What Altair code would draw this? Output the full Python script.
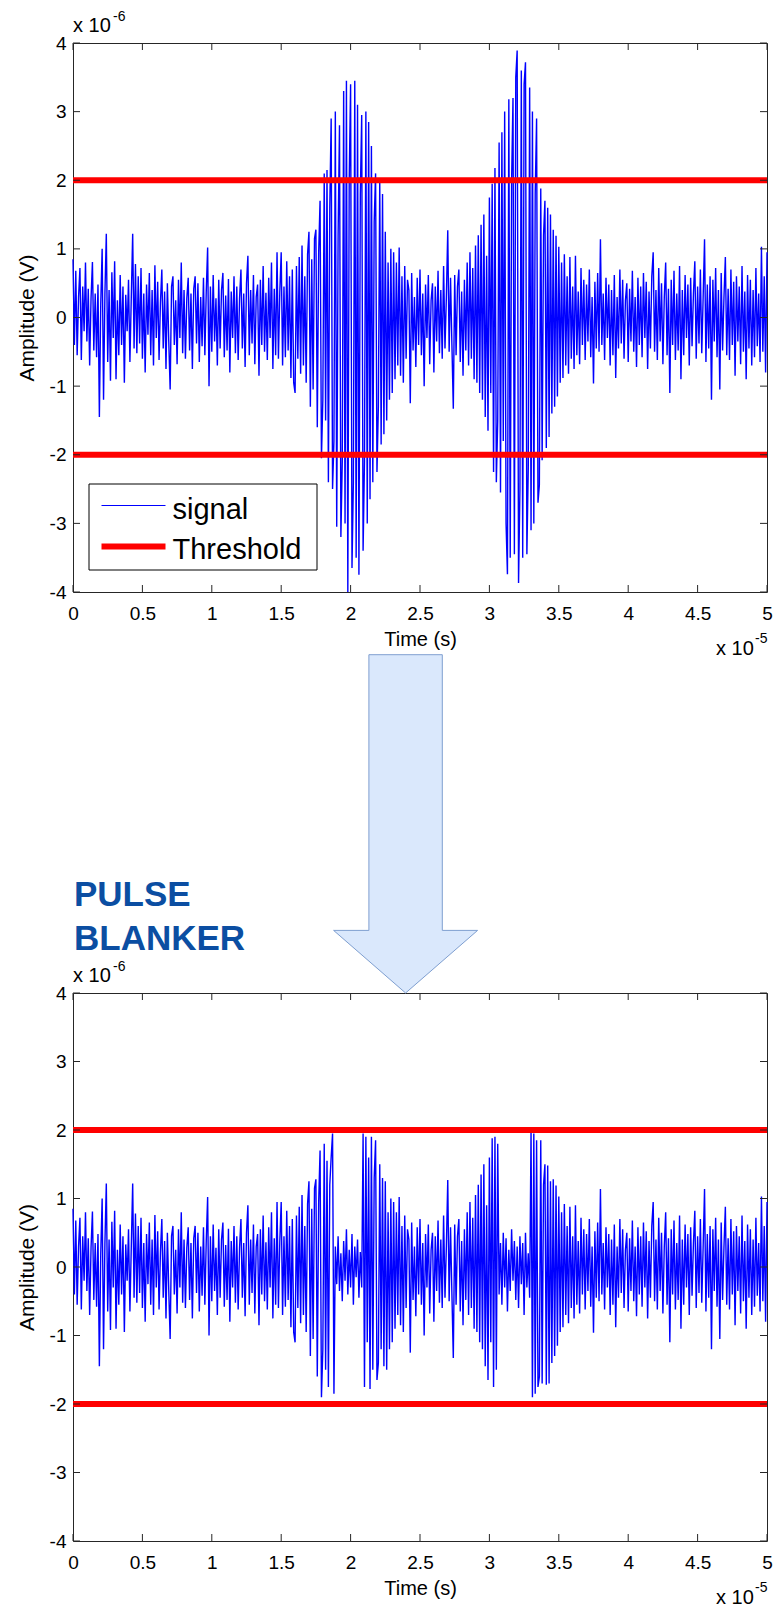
import altair as alt
import pandas as pd

# Amplitudes are in hundredths of a microvolt (1e-8 V).
# Time axis is in units of 1e-5 s, sampled 100 times per unit (0 .. 5).
noise_a = [
    85, -40, 68, -55, 30, 72, -62, 45, -20, 80,
    -35, 42, -70, 28, 81, -48, 35, -58, 48, -145,
    20, 100, -120, 35, 122, -65, 40, -92, 66, -30,
    82, -90, 25, -55, 62, -40, 45, -95, 33, -20,
    55, -65, 30, 122, -45, 78, -52, 60, -38, 72,
    -60, 35, -80, 48, -25, 65, -55, 40, -70, 76,
    -30, 52, -62, 22, 70, -45, 38, -75, 50, -35,
    -105, 45, 60, -40, 25, -68, 55, -30, 80, -52,
    40, -60, 28, 58, -48, 35, -75, 42, 60, -38,
    50, -65, 30, -42, 58, -55, 38, 102, -100, 45,
    -50, 62, -35, 28, -70, 55, -45, 40, 65, -58,
    32, -48, 56, -80, 38, -30, 60, -52, 45, -62,
    28, 70, -45, 35, -72, 50, 90, -55, 40, -38,
    62, -68, 30, 48, -85, 55, -40, 75, -50, 36,
    -62, 58, -30, 80, -75, 42, -55, 95, -60, 38,
    95, -70, 45, -58, 82, -48, 60, -88, 70, -95,
    -110, 75, -60, 88, -82, 105, -70, 60, -95, 92,
    125, -130, 85, -105, 115,
]
burst1 = [
    128, -160, 95, 170, -205, -120, 210, -150, 215, -240,
    160, 290, -250, -180, 300, -305, 120, 280, -320, -210,
    330, -300, 345, -400, 200, 340, -365, -240, 345, -350,
    310, -375, 180, 295, -340, -210, 300, -300, 285, -265,
    250, -240, 140, 210, -225, -130, 200, -185, 180, -170,
    125, -150, 80, -120, 100,
]
noise_b = [
    -110, 95, -90, 80, -70, 102, -85, 60, -95, 75,
    -60, 55, 40, -125, 65, -48, 30, -72, 58, -40,
    70, -55, 35, -100, 48, -30, 62, -68, 25, 50,
    -80, 45, -35, 68, -52, 40, -60, 75, -45, 30,
    127, -50, 58, -40, -133, 62, -55, 45, 70, -65,
    38, -85, 55, -48, 80, -70, 95, -60, 72, -90,
    105, -95, 120, -110, 135,
]
burst2 = [
    -120, 150, -145, 90, -165, 175, -110, 195, -225, 218,
    -240, -150, 255, -255, 270, -180, 300, -300, -374, 318,
    -350, 200, 320, -345, 350, 389, -387, -250, 360, -350,
    340, 372, -345, -220, 335, -310, 300, -300, 180, 290,
    -270, -244, 188, -208, 120, 170, -190, 160, -174, 150,
    -140, 128, -130, 119, -115,
]
noise_c = [
    103, -95, 80, -88, 92, -70, 60, -82, 88, -60,
    45, -75, 90, -55, 38, -68, 72, -40, 55, -62,
    48, -35, 70, -58, 30, -96, 52, -45, 65, -50,
    114, -40, 35, -62, 58, -30, 48, -70, 40, -55,
    62, -88, 30, -45, 70, -38, 55, -60, 25, 50,
    -65, 42, -35, 68, -50, 30, -72, 58, -40, 45,
    -58, 65, -30, 52, -75, 38, -45, 60, 95, -50,
    40, -62, 72, -35, 50, -68, 30, 80, -55, 42,
    -110, 55, -40, 68, -62, 35, -48, 75, -90, 40,
    -55, 62, -30, 48, -70, 58, -42, 35, 82, -60,
    45, -38, 70, -52, 30, 114, -65, 48, -45, 60,
    -120, 55, -35, 72, -58, 40, -105, 65, -48, 30,
    88, -55, 42, -62, 70, -40, 52, -85, 60, -35,
    45, -68, 75, -50, 38, -90, 62, -45, 55, -70,
    40, -58, 72, -42, 35, -65, 103, -50, 60, -80,
    95,
]
# pulse-blanker output over the two burst windows
blanked1 = [
    128, -160, 95, 170, -190, -120, 180, -150, 155, -175,
    120, 160, 195, -185, 30, -25, 45, -35, 20, -50,
    38, -20, 55, -40, 25, -30, 48, -55, 30, -15,
    40, -45, 22, -30, 195, -175, 190, -110, 160, -178,
    190, -150, 130, 185, -165, -140, 150, -120, 130, -145,
    125, -150, 80, -120, 100,
]
blanked2 = [
    -120, 150, -145, 90, -165, 160, -110, 188, -175, 190,
    -150, 180, -40, 35, -55, 50, -30, 42, -65, 25,
    -35, 55, -20, 38, -48, 30, -60, 45, -25, 35,
    -70, 50, -30, 20, -45, 198, -190, 195, -185, 185,
    -175, -160, 185, -170, 120, 150, -172, 148, -170, 125,
    -140, 128, -130, 119, -115,
]

SAMPLES_PER_UNIT = 100
x_ticks = [0, 0.5, 1, 1.5, 2, 2.5, 3, 3.5, 4, 4.5, 5]
y_ticks = [-4, -3, -2, -1, 0, 1, 2, 3, 4]
thresholds = [2, -2]
legend_labels = ["signal", "Threshold"]
banner_lines = ["PULSE", "BLANKER"]

raw_signal = noise_a + burst1 + noise_b + burst2 + noise_c
blanked_signal = noise_a + blanked1 + noise_b + blanked2 + noise_c


def to_frame(vals):
    return pd.DataFrame({
        "t": [i / SAMPLES_PER_UNIT for i in range(len(vals))],
        "v": [v / 100 for v in vals],
    })


W = 694
FONT = "Liberation Sans"
BLUE = "#0000FF"
RED = "#FF0000"
FRAME = "#262626"
xs = alt.Scale(domain=[0, 5], nice=False, zero=False)
ys = alt.Scale(domain=[-4, 4], nice=False, zero=False)
one = pd.DataFrame({"k": [0]})


def text(s, x, y, size, color="black", weight="normal"):
    return alt.Chart(pd.DataFrame({"s": [s]})).mark_text(
        align="left", baseline="alphabetic", font=FONT, fontSize=size,
        color=color, fontWeight=weight,
    ).encode(x=alt.value(x), y=alt.value(y), text="s:N")


def panel(vals, H):
    x_enc = alt.X("t:Q", scale=xs, title="Time (s)", axis=alt.Axis(
        values=x_ticks, labelExpr="'' + datum.value",
        labelPadding=12, labelFlush=False, titleY=53, titleBaseline="alphabetic"))
    y_enc = alt.Y("v:Q", scale=ys, title="Amplitude (V)", axis=alt.Axis(
        values=y_ticks, labelExpr="'' + datum.value",
        labelPadding=7, labelFlush=False, titleX=-40, titleY=H / 2,
        titleFontSize=21, titleAngle=270, titleAlign="center", titleBaseline="alphabetic"))
    tx = alt.X("t:Q", scale=xs, title="Time (s)")
    ty = alt.Y("v:Q", scale=ys, title="Amplitude (V)")
    line = alt.Chart(to_frame(vals)).mark_line(color=BLUE, strokeWidth=1.4).encode(x=x_enc, y=y_enc)
    thr = alt.Chart(pd.DataFrame({"v": thresholds})).mark_rule(
        color=RED, strokeWidth=6).encode(y=ty)
    xt = pd.DataFrame({"t": x_ticks})
    yt = pd.DataFrame({"v": y_ticks})
    tick_b = alt.Chart(xt).mark_rule(color=FRAME, strokeWidth=1).encode(
        x=tx, y=alt.value(H), y2=alt.value(H - 7))
    tick_t = alt.Chart(xt).mark_rule(color=FRAME, strokeWidth=1).encode(
        x=tx, y=alt.value(0), y2=alt.value(7))
    tick_l = alt.Chart(yt).mark_rule(color=FRAME, strokeWidth=1).encode(
        y=ty, x=alt.value(0), x2=alt.value(7))
    tick_r = alt.Chart(yt).mark_rule(color=FRAME, strokeWidth=1).encode(
        y=ty, x=alt.value(W - 7), x2=alt.value(W))
    exp_y = [text("x 10", 0, -11, 20), text("-6", 40, -22, 14)]
    exp_x = [text("x 10", 643, H + 63, 20), text("-5", 682, H + 51, 14)]
    return [line, thr, tick_b, tick_t, tick_l, tick_r] + exp_y + exp_x


# top panel with legend
H1 = 549
legend = [
    alt.Chart(one).mark_rect(fill="white", stroke="black", strokeWidth=1).encode(
        x=alt.value(16), x2=alt.value(244), y=alt.value(441), y2=alt.value(527)),
    alt.Chart(one).mark_rule(color=BLUE, strokeWidth=1).encode(
        x=alt.value(28.5), x2=alt.value(92.5), y=alt.value(462.5)),
    alt.Chart(one).mark_rule(color=RED, strokeWidth=6).encode(
        x=alt.value(28.5), x2=alt.value(92.5), y=alt.value(503.5)),
    text(legend_labels[0], 99.5, 475.5, 29),
    text(legend_labels[1], 99.5, 515.5, 29),
]
top = alt.layer(*(panel(raw_signal, H1) + legend)).properties(width=W, height=H1)

# bottom panel with arrow and banner
H2 = 548
ARROW = "M-36.7,-338.3L36.7,-338.3L36.7,-62.6L72,-62.6L0,0L-72,-62.6L-36.7,-62.6Z"
arrow = alt.Chart(one).mark_point(
    shape=ARROW, size=4, filled=True, fill="#DAE8FC", stroke="#7F9FD0",
    strokeWidth=1, opacity=1, fillOpacity=1,
).encode(x=alt.value(332.6), y=alt.value(0))
banner = [
    text(banner_lines[0], 1, -86.6, 35, color="#0B4EA2", weight="bold"),
    text(banner_lines[1], 1, -43.3, 35, color="#0B4EA2", weight="bold"),
]
bottom = alt.layer(*(panel(blanked_signal, H2) + [arrow] + banner)).properties(width=W, height=H2)

chart = alt.vconcat(top, bottom, spacing=401, bounds="flush").properties(
    padding={"left": 15, "top": 9, "right": 0, "bottom": 0},
    background="white",
).configure_view(
    stroke=FRAME, strokeWidth=1,
).configure_axis(
    domain=False, ticks=False, tickSize=0, grid=False,
    labelFont=FONT, labelFontSize=19, labelColor="black",
    titleFont=FONT, titleFontSize=20, titleFontWeight="normal", titleColor="black",
)

chart.save("out.html", embed_options={"renderer": "svg", "actions": False})
